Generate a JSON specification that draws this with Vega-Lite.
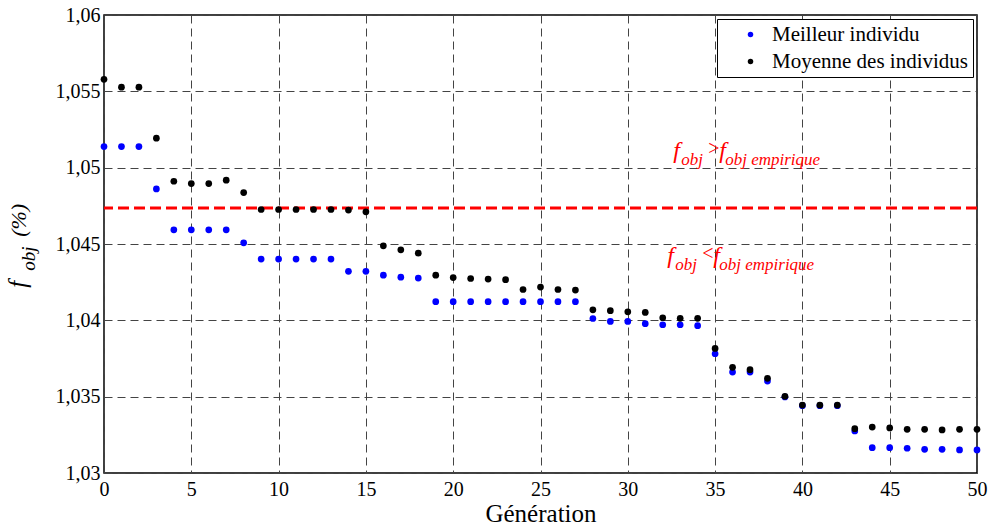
{
  "$schema": "https://vega.github.io/schema/vega-lite/v6.json",
  "width": 873,
  "height": 458,
  "autosize": {"type": "none"},
  "padding": {"left": 104, "top": 15, "right": 12, "bottom": 55},
  "background": "white",
  "config": {
    "locale": {"number": {"decimal": ",", "thousands": ".", "grouping": [3], "currency": ["", " €"]}},
    "view": {"stroke": "black", "strokeWidth": 1.5},
    "font": "Liberation Serif",
    "axis": {
      "labelFont": "Liberation Serif",
      "titleFont": "Liberation Serif",
      "labelColor": "black",
      "titleColor": "black",
      "labelFontSize": 20,
      "domain": false,
      "ticks": false,
      "grid": true,
      "gridColor": "#444444",
      "gridDash": [8, 5],
      "gridWidth": 1,
      "gridOpacity": 1
    }
  },
  "datasets": {
    "pts": [
      {"gen":0,"value":1.05138,"serie":"Meilleur individu"},
      {"gen":1,"value":1.05138,"serie":"Meilleur individu"},
      {"gen":2,"value":1.05138,"serie":"Meilleur individu"},
      {"gen":3,"value":1.04861,"serie":"Meilleur individu"},
      {"gen":4,"value":1.04593,"serie":"Meilleur individu"},
      {"gen":5,"value":1.04593,"serie":"Meilleur individu"},
      {"gen":6,"value":1.04593,"serie":"Meilleur individu"},
      {"gen":7,"value":1.04593,"serie":"Meilleur individu"},
      {"gen":8,"value":1.04508,"serie":"Meilleur individu"},
      {"gen":9,"value":1.04401,"serie":"Meilleur individu"},
      {"gen":10,"value":1.04401,"serie":"Meilleur individu"},
      {"gen":11,"value":1.04401,"serie":"Meilleur individu"},
      {"gen":12,"value":1.04401,"serie":"Meilleur individu"},
      {"gen":13,"value":1.04401,"serie":"Meilleur individu"},
      {"gen":14,"value":1.04321,"serie":"Meilleur individu"},
      {"gen":15,"value":1.04321,"serie":"Meilleur individu"},
      {"gen":16,"value":1.04296,"serie":"Meilleur individu"},
      {"gen":17,"value":1.04283,"serie":"Meilleur individu"},
      {"gen":18,"value":1.04277,"serie":"Meilleur individu"},
      {"gen":19,"value":1.04122,"serie":"Meilleur individu"},
      {"gen":20,"value":1.04122,"serie":"Meilleur individu"},
      {"gen":21,"value":1.04122,"serie":"Meilleur individu"},
      {"gen":22,"value":1.04122,"serie":"Meilleur individu"},
      {"gen":23,"value":1.04122,"serie":"Meilleur individu"},
      {"gen":24,"value":1.04122,"serie":"Meilleur individu"},
      {"gen":25,"value":1.04122,"serie":"Meilleur individu"},
      {"gen":26,"value":1.04122,"serie":"Meilleur individu"},
      {"gen":27,"value":1.04122,"serie":"Meilleur individu"},
      {"gen":28,"value":1.04012,"serie":"Meilleur individu"},
      {"gen":29,"value":1.03993,"serie":"Meilleur individu"},
      {"gen":30,"value":1.03993,"serie":"Meilleur individu"},
      {"gen":31,"value":1.03978,"serie":"Meilleur individu"},
      {"gen":32,"value":1.03971,"serie":"Meilleur individu"},
      {"gen":33,"value":1.03971,"serie":"Meilleur individu"},
      {"gen":34,"value":1.03965,"serie":"Meilleur individu"},
      {"gen":35,"value":1.03781,"serie":"Meilleur individu"},
      {"gen":36,"value":1.03661,"serie":"Meilleur individu"},
      {"gen":37,"value":1.03661,"serie":"Meilleur individu"},
      {"gen":38,"value":1.03602,"serie":"Meilleur individu"},
      {"gen":39,"value":1.03498,"serie":"Meilleur individu"},
      {"gen":40,"value":1.03441,"serie":"Meilleur individu"},
      {"gen":41,"value":1.03441,"serie":"Meilleur individu"},
      {"gen":42,"value":1.03441,"serie":"Meilleur individu"},
      {"gen":43,"value":1.03275,"serie":"Meilleur individu"},
      {"gen":44,"value":1.03166,"serie":"Meilleur individu"},
      {"gen":45,"value":1.03166,"serie":"Meilleur individu"},
      {"gen":46,"value":1.03162,"serie":"Meilleur individu"},
      {"gen":47,"value":1.03155,"serie":"Meilleur individu"},
      {"gen":48,"value":1.03155,"serie":"Meilleur individu"},
      {"gen":49,"value":1.03151,"serie":"Meilleur individu"},
      {"gen":50,"value":1.03151,"serie":"Meilleur individu"},
      {"gen":0,"value":1.05579,"serie":"Moyenne des individus"},
      {"gen":1,"value":1.05527,"serie":"Moyenne des individus"},
      {"gen":2,"value":1.05527,"serie":"Moyenne des individus"},
      {"gen":3,"value":1.05193,"serie":"Moyenne des individus"},
      {"gen":4,"value":1.04911,"serie":"Moyenne des individus"},
      {"gen":5,"value":1.04896,"serie":"Moyenne des individus"},
      {"gen":6,"value":1.04896,"serie":"Moyenne des individus"},
      {"gen":7,"value":1.04918,"serie":"Moyenne des individus"},
      {"gen":8,"value":1.04837,"serie":"Moyenne des individus"},
      {"gen":9,"value":1.04726,"serie":"Moyenne des individus"},
      {"gen":10,"value":1.04726,"serie":"Moyenne des individus"},
      {"gen":11,"value":1.04726,"serie":"Moyenne des individus"},
      {"gen":12,"value":1.04726,"serie":"Moyenne des individus"},
      {"gen":13,"value":1.04726,"serie":"Moyenne des individus"},
      {"gen":14,"value":1.04722,"serie":"Moyenne des individus"},
      {"gen":15,"value":1.04711,"serie":"Moyenne des individus"},
      {"gen":16,"value":1.04488,"serie":"Moyenne des individus"},
      {"gen":17,"value":1.04462,"serie":"Moyenne des individus"},
      {"gen":18,"value":1.0444,"serie":"Moyenne des individus"},
      {"gen":19,"value":1.04296,"serie":"Moyenne des individus"},
      {"gen":20,"value":1.0428,"serie":"Moyenne des individus"},
      {"gen":21,"value":1.04274,"serie":"Moyenne des individus"},
      {"gen":22,"value":1.0427,"serie":"Moyenne des individus"},
      {"gen":23,"value":1.04266,"serie":"Moyenne des individus"},
      {"gen":24,"value":1.04202,"serie":"Moyenne des individus"},
      {"gen":25,"value":1.04218,"serie":"Moyenne des individus"},
      {"gen":26,"value":1.04202,"serie":"Moyenne des individus"},
      {"gen":27,"value":1.04198,"serie":"Moyenne des individus"},
      {"gen":28,"value":1.04069,"serie":"Moyenne des individus"},
      {"gen":29,"value":1.04063,"serie":"Moyenne des individus"},
      {"gen":30,"value":1.04056,"serie":"Moyenne des individus"},
      {"gen":31,"value":1.04052,"serie":"Moyenne des individus"},
      {"gen":32,"value":1.04017,"serie":"Moyenne des individus"},
      {"gen":33,"value":1.04013,"serie":"Moyenne des individus"},
      {"gen":34,"value":1.04013,"serie":"Moyenne des individus"},
      {"gen":35,"value":1.03816,"serie":"Moyenne des individus"},
      {"gen":36,"value":1.03692,"serie":"Moyenne des individus"},
      {"gen":37,"value":1.03677,"serie":"Moyenne des individus"},
      {"gen":38,"value":1.0362,"serie":"Moyenne des individus"},
      {"gen":39,"value":1.03502,"serie":"Moyenne des individus"},
      {"gen":40,"value":1.03445,"serie":"Moyenne des individus"},
      {"gen":41,"value":1.03445,"serie":"Moyenne des individus"},
      {"gen":42,"value":1.03445,"serie":"Moyenne des individus"},
      {"gen":43,"value":1.0329,"serie":"Moyenne des individus"},
      {"gen":44,"value":1.03301,"serie":"Moyenne des individus"},
      {"gen":45,"value":1.03295,"serie":"Moyenne des individus"},
      {"gen":46,"value":1.03286,"serie":"Moyenne des individus"},
      {"gen":47,"value":1.03286,"serie":"Moyenne des individus"},
      {"gen":48,"value":1.03282,"serie":"Moyenne des individus"},
      {"gen":49,"value":1.03286,"serie":"Moyenne des individus"},
      {"gen":50,"value":1.03286,"serie":"Moyenne des individus"}
    ],
    "seuil": [{"value": 1.04735}],
    "ann": [
      {"gen": 32.6, "value": 1.05061, "op": ">"},
      {"gen": 32.26, "value": 1.04374, "op": "<"}
    ],
    "ytitle": [{"gen": -4.47, "value": 1.04213}]
  },
  "encoding": {
    "x": {
      "field": "gen", "type": "quantitative",
      "scale": {"domain": [0, 50], "nice": false, "zero": false},
      "axis": {
        "values": [0,5,10,15,20,25,30,35,40,45,50],
        "title": "Génération",
        "titleFontSize": 25,
        "titleFontWeight": "normal",
        "titlePadding": 2,
        "labelPadding": 6,
        "labelFlush": false,
        "labelOverlap": false
      }
    },
    "y": {
      "field": "value", "type": "quantitative",
      "scale": {"domain": [1.03, 1.06], "nice": false, "zero": false},
      "axis": {
        "values": [1.03,1.035,1.04,1.045,1.05,1.055,1.06],
        "format": ".3~f",
        "title": null,
        "labelPadding": 4,
        "labelOverlap": false
      }
    }
  },
  "layer": [
    {
      "data": {"name": "seuil"},
      "mark": {"type": "rule", "color": "#ff0000", "strokeWidth": 3, "strokeDash": [11, 5]},
      "encoding": {"x": null}
    },
    {
      "data": {"name": "pts"},
      "mark": {"type": "point", "shape": "circle", "filled": true, "size": 45, "opacity": 1},
      "encoding": {
        "color": {
          "field": "serie", "type": "nominal",
          "scale": {"domain": ["Meilleur individu", "Moyenne des individus"], "range": ["#0000ff", "#000000"]},
          "legend": {
            "title": null,
            "orient": "top-right",
            "offset": 4,
            "padding": 5,
            "fillColor": "white",
            "strokeColor": "black",
            "labelFont": "Liberation Serif",
            "labelFontSize": 21,
            "labelColor": "black",
            "labelLimit": 400,
            "symbolType": "circle",
            "symbolSize": 30,
            "symbolOffset": 18,
            "labelOffset": 11,
            "rowPadding": 5
          }
        }
      }
    },
    {
      "data": {"name": "ann"},
      "mark": {"type": "text", "text": "f", "font": "Liberation Serif", "fontStyle": "italic", "fontSize": 24, "color": "#ff0000", "align": "left", "baseline": "alphabetic"}
    },
    {
      "data": {"name": "ann"},
      "mark": {"type": "text", "text": "obj", "font": "Liberation Serif", "fontStyle": "italic", "fontSize": 17, "color": "#ff0000", "align": "left", "baseline": "alphabetic", "dx": 8, "dy": 7}
    },
    {
      "data": {"name": "ann"},
      "mark": {"type": "text", "font": "Liberation Serif", "fontSize": 20, "color": "#ff0000", "align": "left", "baseline": "alphabetic", "dx": 35, "dy": -3},
      "encoding": {"text": {"field": "op", "type": "nominal"}}
    },
    {
      "data": {"name": "ann"},
      "mark": {"type": "text", "text": "f", "font": "Liberation Serif", "fontStyle": "italic", "fontSize": 24, "color": "#ff0000", "align": "left", "baseline": "alphabetic", "dx": 46}
    },
    {
      "data": {"name": "ann"},
      "mark": {"type": "text", "text": "obj empirique", "font": "Liberation Serif", "fontStyle": "italic", "fontSize": 17, "color": "#ff0000", "align": "left", "baseline": "alphabetic", "dx": 52, "dy": 7}
    },
    {
      "data": {"name": "ytitle"},
      "mark": {"type": "text", "text": "f", "font": "Liberation Serif", "fontStyle": "italic", "fontSize": 25, "color": "black", "align": "left", "baseline": "alphabetic", "angle": 270}
    },
    {
      "data": {"name": "ytitle"},
      "mark": {"type": "text", "text": "obj", "font": "Liberation Serif", "fontStyle": "italic", "fontSize": 19, "color": "black", "align": "left", "baseline": "alphabetic", "angle": 270, "dx": 17, "dy": 9}
    },
    {
      "data": {"name": "ytitle"},
      "mark": {"type": "text", "text": "(%)", "font": "Liberation Serif", "fontStyle": "italic", "fontSize": 22, "color": "black", "align": "left", "baseline": "alphabetic", "angle": 270, "dx": 51}
    }
  ]
}
